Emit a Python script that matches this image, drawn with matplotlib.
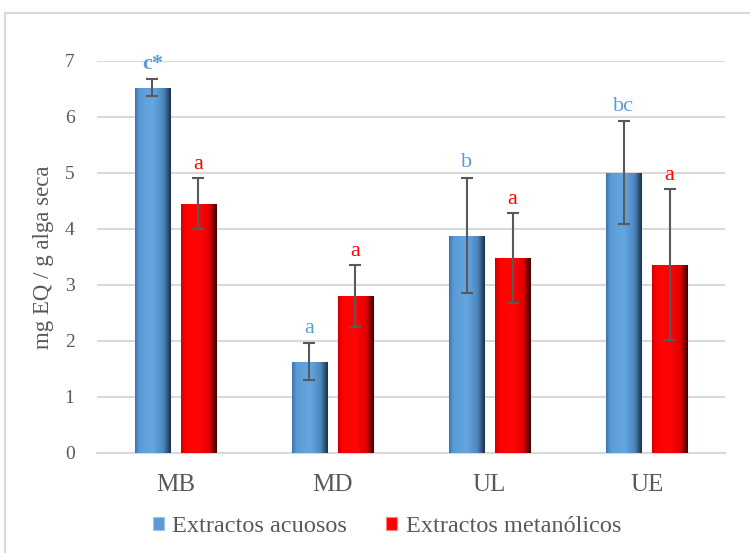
import numpy as np
import matplotlib.pyplot as plt
from matplotlib.patches import Rectangle
from matplotlib.colors import LinearSegmentedColormap

plt.rcParams["font.family"] = ["Liberation Serif", "DejaVu Serif"]

categories = ["MB", "MD", "UL", "UE"]
acuosos = [6.52, 1.63, 3.88, 5.00]
acuosos_err = [0.15, 0.33, 1.03, 0.92]
metanolicos = [4.45, 2.80, 3.48, 3.36]
metanolicos_err = [0.45, 0.55, 0.80, 1.35]
letras_acuosos = ["c*", "a", "b", "bc"]
letras_metanolicos = ["a", "a", "a", "a"]

azul = "#5B9BD5"
rojo = "#FF0000"
gris = "#595959"

fig = plt.figure(figsize=(7.5, 5.53), dpi=100)
ax = fig.add_axes([0.129, 0.181, 0.838, 0.709])

# borde exterior del gráfico
fig.patches.append(Rectangle((5 / 750, -0.1), 1.2, 1 - 13 / 553 + 0.1,
                             transform=fig.transFigure, fill=False,
                             edgecolor="#D9D9D9", lw=1.5))

x = np.arange(len(categories))
w = 0.225
off = 0.146

b1 = ax.bar(x - off, acuosos, w, color=azul, edgecolor="#9DC3E6", lw=0.8,
            label="Extractos acuosos", zorder=3)
b2 = ax.bar(x + off, metanolicos, w, color=rojo, edgecolor="#FF8080", lw=0.8,
            label="Extractos metanólicos", zorder=3)

# degradado horizontal para imitar el relieve de las barras
cm_azul = LinearSegmentedColormap.from_list(
    "azul", [(0, "#3F75AE"), (0.12, "#5B9BD5"), (0.5, "#65A6E2"), (0.8, "#4E88BE"), (1, "#1B3349")])
cm_rojo = LinearSegmentedColormap.from_list(
    "rojo", [(0, "#D00000"), (0.12, "#FF0000"), (0.5, "#FF0606"), (0.8, "#E00000"), (1, "#3A0000")])
grad = np.linspace(0, 1, 64).reshape(1, -1)
for bars, cmap in ((b1, cm_azul), (b2, cm_rojo)):
    for b in bars:
        im = ax.imshow(grad, cmap=cmap, aspect="auto", zorder=3.1,
                       extent=[b.get_x(), b.get_x() + b.get_width(), 0, b.get_height()])
        im.set_clip_path(b)

ax.errorbar(x - off, acuosos, yerr=acuosos_err, fmt="none", ecolor=gris,
            elinewidth=1.5, capsize=4, capthick=1.5, zorder=4)
ax.errorbar(x + off, metanolicos, yerr=metanolicos_err, fmt="none", ecolor=gris,
            elinewidth=1.5, capsize=4, capthick=1.5, zorder=4)

for i in range(len(categories)):
    ax.annotate(letras_acuosos[i], (x[i] - off, acuosos[i] + acuosos_err[i]),
                xytext=(0, 4), textcoords="offset points", ha="center", va="bottom",
                color=azul, fontsize=16, fontweight="bold" if i == 0 else "normal",
                annotation_clip=False)
    ax.annotate(letras_metanolicos[i], (x[i] + off, metanolicos[i] + metanolicos_err[i]),
                xytext=(0, 3), textcoords="offset points", ha="center", va="bottom",
                color=rojo, fontsize=16, annotation_clip=False)

ax.set_xlim(-0.5, len(categories) - 0.5)
ax.set_ylim(0, 7)
ax.set_yticks(range(0, 8))
ax.set_xticks(x)
ax.set_xticklabels(categories)
ax.yaxis.grid(True, color="#D9D9D9", lw=1.5, zorder=0)
ax.set_axisbelow(True)
for s in ["top", "right", "left"]:
    ax.spines[s].set_visible(False)
ax.spines["bottom"].set_color("#D9D9D9")
ax.spines["bottom"].set_linewidth(1.5)
ax.tick_params(axis="both", length=0, colors=gris, labelsize=14)
ax.tick_params(axis="x", pad=15, labelsize=18)
ax.tick_params(axis="y", pad=16)
ax.set_ylabel("mg EQ / g alga seca", color=gris, fontsize=16.5, labelpad=8)

fig.legend(handles=[b1, b2], loc="center", bbox_to_anchor=(0.516, 1 - 527 / 553),
           ncol=2, frameon=False, fontsize=17.5, labelcolor=gris,
           handlelength=0.45, handleheight=0.45, handletextpad=0.35, columnspacing=1.6)

fig.savefig("out.png", dpi=100)
